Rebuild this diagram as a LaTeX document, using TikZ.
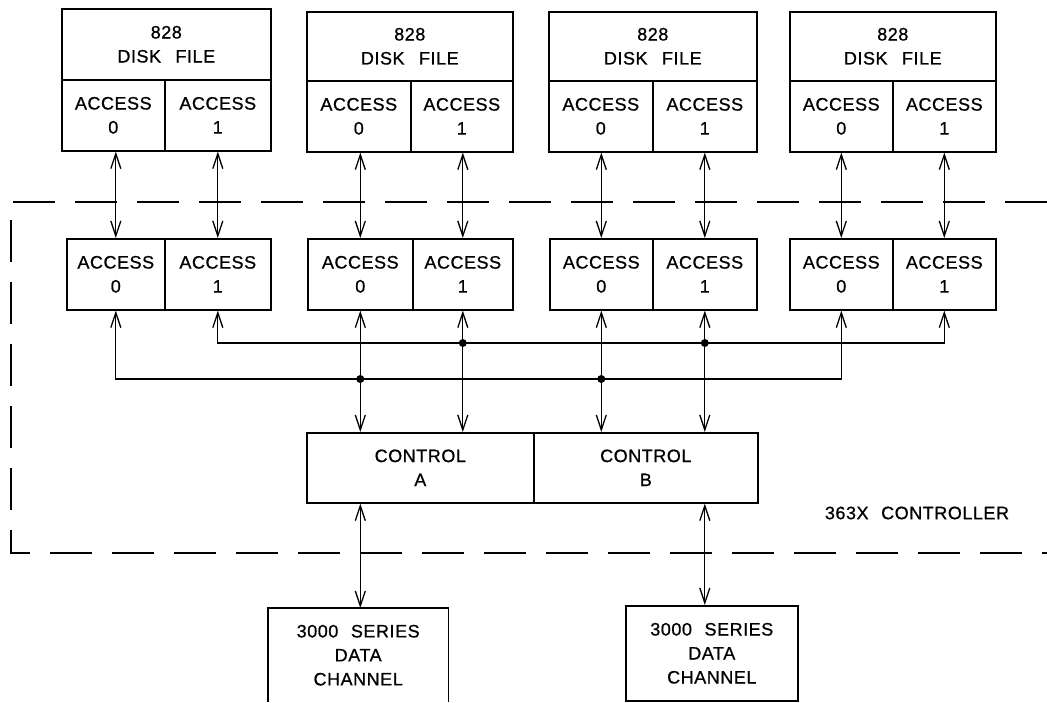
\documentclass[tikz,border=0pt]{standalone}
\usepackage{fontspec}
\setmainfont{Liberation Sans}[LetterSpace=3,FakeBold=0.8]
\usetikzlibrary{arrows.meta}
\begin{document}
\begin{tikzpicture}[x=1pt,y=-1pt,
  lbl/.style={font=\fontsize{18}{24}\selectfont, align=center, inner sep=0pt},
  cell/.style 2 args={draw, line width=1.6pt, lbl, anchor=north west,
    minimum width=#1, minimum height=#2},
  opencell/.style 2 args={lbl, anchor=north west, minimum width=#1, minimum height=#2},
  conn/.style={line width=1.3pt, {Straight Barb[length=15pt,width=10pt]}-{Straight Barb[length=15pt,width=10pt]}},
  frame/.style={line width=1.4pt, dash pattern=on 42pt off 20pt},
  dot/.style={circle, fill, inner sep=0pt, minimum size=8pt}
]
\useasboundingbox (0,0) rectangle (1047,702);

% ---- 828 disk files ----
\node[cell={209pt}{71pt}] (t1) at (61,8) {828\\DISK\hspace{0.8em}FILE};
\node[cell={103pt}{71pt}] (t1a) at (61,79) {ACCESS\\0};
\node[cell={106pt}{71pt}] (t1b) at (164,79) {ACCESS\\1};

\node[cell={206pt}{69pt}] (t2) at (306,11) {828\\DISK\hspace{0.8em}FILE};
\node[cell={104pt}{71pt}] (t2a) at (306,80) {ACCESS\\0};
\node[cell={102pt}{71pt}] (t2b) at (410,80) {ACCESS\\1};

\node[cell={208pt}{69pt}] (t3) at (548,11) {828\\DISK\hspace{0.8em}FILE};
\node[cell={104pt}{71pt}] (t3a) at (548,80) {ACCESS\\0};
\node[cell={104pt}{71pt}] (t3b) at (652,80) {ACCESS\\1};

\node[cell={206pt}{69pt}] (t4) at (789,11) {828\\DISK\hspace{0.8em}FILE};
\node[cell={103pt}{71pt}] (t4a) at (789,80) {ACCESS\\0};
\node[cell={103pt}{71pt}] (t4b) at (892,80) {ACCESS\\1};

% ---- controller access units ----
\node[cell={98pt}{71pt}]  (m1a) at (66,238) {ACCESS\\0};
\node[cell={106pt}{71pt}] (m1b) at (164,238) {ACCESS\\1};
\node[cell={105pt}{71pt}] (m2a) at (307,238) {ACCESS\\0};
\node[cell={100pt}{71pt}] (m2b) at (412,238) {ACCESS\\1};
\node[cell={103pt}{71pt}] (m3a) at (549,238) {ACCESS\\0};
\node[cell={104pt}{71pt}] (m3b) at (652,238) {ACCESS\\1};
\node[cell={103pt}{71pt}] (m4a) at (789,238) {ACCESS\\0};
\node[cell={103pt}{71pt}] (m4b) at (892,238) {ACCESS\\1};

% ---- control ----
\node[cell={227pt}{70pt}] (cA) at (306,432) {CONTROL\\A};
\node[cell={224pt}{70pt}] (cB) at (533,432) {CONTROL\\B};

% ---- data channels ----
\node[opencell={180pt}{94pt}] (dc1) at (268,608) {3000\hspace{0.7em}SERIES\\DATA\\CHANNEL};
\draw[line width=1.6pt] (dc1.south west) -- (dc1.north west) -- (dc1.north east) -- (dc1.south east);
\node[cell={172pt}{95pt}] (dc2) at (625,605) {3000\hspace{0.7em}SERIES\\DATA\\CHANNEL};

\node[lbl] (ctl) at (917,513) {363X\hspace{0.7em}CONTROLLER};

% ---- dashed controller frame ----
\coordinate (fTR) at (1047,202);
\coordinate (fTL) at (11,202);
\coordinate (fBL) at (11,553);
\coordinate (fBR) at (1047,553);
\draw[frame] (fTR) -- (fTL) -- (fBL) -- (fBR);

% ---- disk file to access connectors ----
\foreach \m/\t in {m1a/t1a, m1b/t1b, m2a/t2a, m2b/t2b, m3a/t3a, m3b/t3b, m4a/t4a, m4b/t4b}
  \draw[conn] (\m.north) -- (\m.north |- \t.south);

% ---- buses ----
\coordinate (yU) at (0,343);
\coordinate (yL) at (0,379);
\draw[conn] (m1b.south) -- (m1b.south |- yU) -- (m4b.south |- yU) -- (m4b.south);
\draw[conn] (m1a.south) -- (m1a.south |- yL) -- (m4a.south |- yL) -- (m4a.south);

\draw[conn] (m2a.south) -- (m2a.south |- cA.north);
\draw[conn] (m2b.south) -- (m2b.south |- cA.north);
\draw[conn] (m3a.south) -- (m3a.south |- cB.north);
\draw[conn] (m3b.south) -- (m3b.south |- cB.north);

\node[dot] (j1) at (m2a.south |- yL) {};
\node[dot] (j2) at (m2b.south |- yU) {};
\node[dot] (j3) at (m3a.south |- yL) {};
\node[dot] (j4) at (m3b.south |- yU) {};

% ---- control to data channels ----
\draw[conn] (m2a.south |- cA.south) -- (m2a.south |- dc1.north);
\draw[conn] (m3b.south |- cB.south) -- (m3b.south |- dc2.north);
\end{tikzpicture}
\end{document}
